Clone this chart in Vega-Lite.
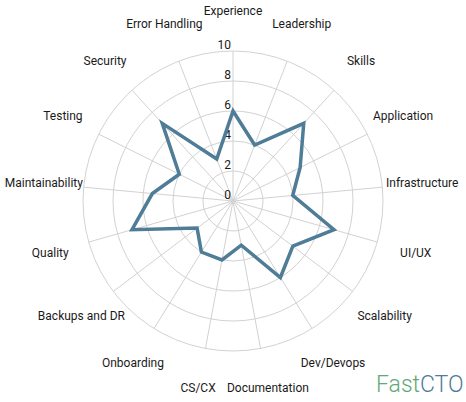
{
  "$schema": "https://vega.github.io/schema/vega-lite/v6.json",
  "width": 466,
  "height": 402,
  "padding": 0,
  "autosize": "none",
  "background": "white",
  "config": {"view": {"stroke": null}, "font": "Roboto"},
  "datasets": {
    "scores": [
      {"i": 0, "category": "Experience", "score": 6},
      {"i": 1, "category": "Leadership", "score": 4},
      {"i": 2, "category": "Skills", "score": 7},
      {"i": 3, "category": "Application", "score": 5},
      {"i": 4, "category": "Infrastructure", "score": 4},
      {"i": 5, "category": "UI/UX", "score": 7},
      {"i": 6, "category": "Scalability", "score": 5},
      {"i": 7, "category": "Dev/Devops", "score": 6},
      {"i": 8, "category": "Documentation", "score": 3},
      {"i": 9, "category": "CS/CX", "score": 4},
      {"i": 10, "category": "Onboarding", "score": 4},
      {"i": 11, "category": "Backups and DR", "score": 3},
      {"i": 12, "category": "Quality", "score": 7},
      {"i": 13, "category": "Maintainability", "score": 5.4},
      {"i": 14, "category": "Testing", "score": 4},
      {"i": 15, "category": "Security", "score": 7},
      {"i": 16, "category": "Error Handling", "score": 3}
    ],
    "grid": [{"v": 2}, {"v": 4}, {"v": 6}, {"v": 8}, {"v": 10}],
    "ticks": [{"v": 0}, {"v": 2}, {"v": 4}, {"v": 6}, {"v": 8}, {"v": 10}],
    "logo": [{"part": "logo"}]
  },
  "layer": [
    {
      "data": {"name": "grid"},
      "mark": {"type": "point", "shape": "circle", "filled": false, "stroke": "#d2d2d2", "strokeWidth": 1, "opacity": 1},
      "encoding": {
        "x": {"datum": 0, "type": "quantitative", "scale": {"domain": [-15.5333, 15.5333], "nice": false, "zero": false}, "axis": null},
        "y": {"datum": 0, "type": "quantitative", "scale": {"domain": [-13.4, 13.4], "nice": false, "zero": false}, "axis": null},
        "size": {"field": "v", "type": "quantitative", "scale": {"type": "pow", "exponent": 2, "domain": [0, 10], "range": [0, 90000], "zero": true, "nice": false}, "legend": null}
      }
    },
    {
      "data": {"name": "scores"},
      "transform": [
        {"calculate": "datum.i * 2 * PI / 17", "as": "a"},
        {"calculate": "10 * sin(datum.a)", "as": "xo"},
        {"calculate": "10 * cos(datum.a)", "as": "yo"}
      ],
      "mark": {"type": "rule", "color": "#d2d2d2", "strokeWidth": 1},
      "encoding": {
        "x": {"field": "xo", "type": "quantitative"},
        "y": {"field": "yo", "type": "quantitative"},
        "x2": {"datum": 0},
        "y2": {"datum": 0}
      }
    },
    {
      "data": {"name": "ticks"},
      "mark": {"type": "text", "align": "right", "baseline": "alphabetic", "dx": -2, "dy": -2.5, "fontSize": 12, "color": "#1a1a1a"},
      "encoding": {
        "x": {"datum": 0, "type": "quantitative"},
        "y": {"field": "v", "type": "quantitative"},
        "text": {"field": "v", "type": "quantitative"}
      }
    },
    {
      "data": {"name": "scores"},
      "transform": [
        {"calculate": "datum.i * 2 * PI / 17", "as": "a"},
        {"calculate": "datum.score * sin(datum.a)", "as": "px"},
        {"calculate": "datum.score * cos(datum.a)", "as": "py"}
      ],
      "mark": {"type": "line", "interpolate": "linear-closed", "color": "#4f7c96", "strokeWidth": 3.5, "strokeJoin": "miter"},
      "encoding": {
        "x": {"field": "px", "type": "quantitative"},
        "y": {"field": "py", "type": "quantitative"},
        "order": {"field": "i", "type": "quantitative"}
      }
    },
    {
      "data": {"name": "scores"},
      "transform": [
        {"calculate": "datum.i * 2 * PI / 17", "as": "a"},
        {"calculate": "12.667 * sin(datum.a)", "as": "lx"},
        {"calculate": "12.667 * cos(datum.a)", "as": "ly"}
      ],
      "mark": {"type": "text", "align": "center", "baseline": "middle", "fontSize": 12, "color": "#1a1a1a"},
      "encoding": {
        "x": {"field": "lx", "type": "quantitative"},
        "y": {"field": "ly", "type": "quantitative"},
        "text": {"field": "category", "type": "nominal"}
      }
    },
    {
      "data": {"name": "logo"},
      "mark": {"type": "text", "text": "Fast", "align": "right", "baseline": "alphabetic", "fontSize": 23, "fontWeight": 300, "color": "#62a874"},
      "encoding": {
        "x": {"datum": 12.467, "type": "quantitative"},
        "y": {"datum": -12.713, "type": "quantitative"}
      }
    },
    {
      "data": {"name": "logo"},
      "mark": {"type": "text", "text": "CTO", "align": "left", "baseline": "alphabetic", "fontSize": 23, "fontWeight": 300, "color": "#4f7c96"},
      "encoding": {
        "x": {"datum": 12.467, "type": "quantitative"},
        "y": {"datum": -12.713, "type": "quantitative"}
      }
    }
  ]
}
